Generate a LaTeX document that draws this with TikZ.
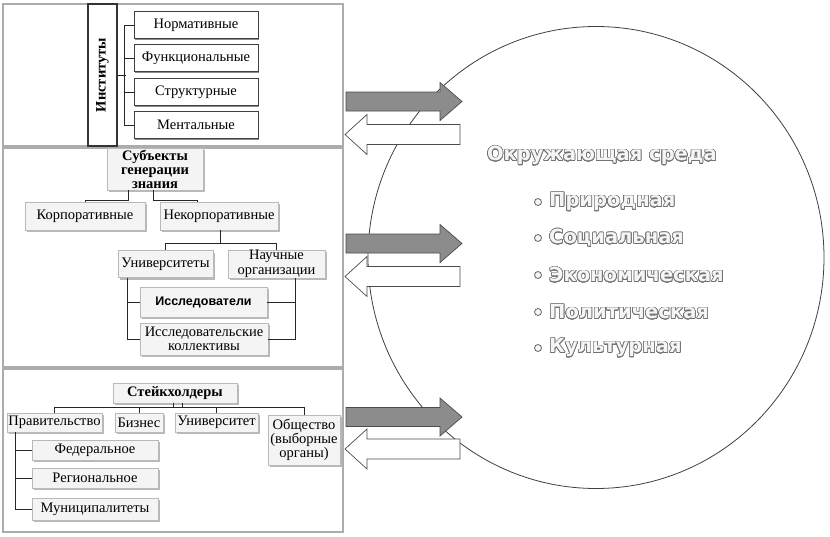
\documentclass[tikz,border=0pt]{standalone}
\usepackage{fontspec}
\setmainfont{Liberation Serif}
\newfontfamily\issfont{Liberation Sans}
\newfontfamily\envfont{DejaVu Sans}
\usepackage{contour}
\contourlength{0.6pt}
\contournumber{24}
\usetikzlibrary{shadows,calc}
\newcommand{\outl}[1]{\contour{black!55}{\textcolor{gray!8}{#1}}}
\newcommand{\rarr}[1]{\draw[garrow] (346,#1-9.5) -- (440,#1-9.5) -- (440,#1-19) -- (462,#1) -- (440,#1+19) -- (440,#1+9.5) -- (346,#1+9.5) -- cycle;}
\newcommand{\larr}[1]{\draw[warrow] (460,#1-10) -- (367,#1-10) -- (367,#1-20) -- (345,#1) -- (367,#1+20) -- (367,#1+10) -- (460,#1+10) -- cycle;}
\begin{document}
\begin{tikzpicture}[x=1pt,y=-1pt,
  panel/.style={draw=gray!65, line width=1.3pt},
  conn/.style={draw=black!85, line width=0.9pt},
  wbox/.style={draw=black!75, fill=white, line width=0.8pt, inner sep=1pt,
    font=\fontsize{14.5}{15}\selectfont,
    drop shadow={shadow xshift=1.3pt, shadow yshift=-1.3pt, fill=black!45, opacity=1}},
  gbox/.style={draw=gray!55, fill=gray!9, line width=0.8pt, inner sep=1pt, align=center,
    font=\fontsize{14.5}{14.5}\selectfont,
    drop shadow={shadow xshift=2pt, shadow yshift=-2pt, fill=gray!55, opacity=1}},
  garrow/.style={draw=black!70, fill=black!45, line width=0.7pt},
  warrow/.style={draw=black!70, fill=white, line width=0.7pt},
  env/.style={draw=black!75, line width=0.8pt},
  envtxt/.style={font=\envfont\bfseries\fontsize{19.5}{21}\selectfont},
  bul/.style={circle, draw=black!60, fill=gray!8, line width=0.8pt, minimum size=7pt, inner sep=0pt}
]
\fill[white] (0,0) rectangle (830,536);
\useasboundingbox (0,0) rectangle (830,536);

% panels
\draw[panel] (3,4) rectangle (343,146);
\draw[panel] (3,148) rectangle (343,367);
\draw[panel] (3,369) rectangle (343,532);

% ---------- panel 1 ----------
\node (inst) [draw=black!80, line width=1.1pt, fill=white, rotate=90, minimum width=142pt,
  minimum height=29pt, inner sep=0pt, font=\bfseries\fontsize{14.5}{14.5}\selectfont] at (102.5,75) {Институты};
\node[wbox, minimum width=124pt, minimum height=27pt] (n1) at (196,25) {Нормативные};
\node[wbox, minimum width=124pt, minimum height=27pt] (n2) at (196,58) {Функциональные};
\node[wbox, minimum width=124pt, minimum height=27pt] (n3) at (196,92) {Структурные};
\node[wbox, minimum width=124pt, minimum height=27pt] (n4) at (196,125) {Ментальные};
\draw[conn] (inst.south) -- ++(8,0);
\draw[conn] (n1.west) -- ++(-9,0) |- (n4.west);
\draw[conn] (n2.west) -- ++(-9,0);
\draw[conn] (n3.west) -- ++(-9,0);

% ---------- panel 2 ----------
\node[gbox, minimum width=96pt, minimum height=42pt, inner sep=0pt,
  font=\bfseries\fontsize{14.5}{14}\selectfont] (subj) at (155,169) {Субъекты\\генерации\\знания};
\node[gbox, minimum width=120pt, minimum height=28pt] (korp) at (85,216) {Корпоративные};
\node[gbox, minimum width=118pt, minimum height=28pt] (nekorp) at (219,216) {Некорпоративные};
\node[gbox, minimum width=95pt, minimum height=27pt] (univ) at (165.5,264) {Университеты};
\node[gbox, minimum width=97pt, minimum height=28pt, inner sep=0pt] (nauch) at (276.5,264) {Научные\\организации};
\node[gbox, minimum width=127pt, minimum height=30pt,
  font=\issfont\bfseries\fontsize{12.5}{13}\selectfont] (issl) at (203.5,302) {Исследователи};
\node[gbox, minimum width=128pt, minimum height=32pt, inner sep=0pt] (koll) at (204,339) {Исследовательские\\коллективы};
\draw[conn] ([xshift=-27pt]subj.south) -- ++(0,10) -| (korp.north);
\draw[conn] ([xshift=-2pt]subj.south) -- ++(0,10) -| ([xshift=-22pt]nekorp.north);
\draw[conn] ([xshift=1pt]nekorp.south) -- ++(0,13) -| (univ.north);
\draw[conn] ([xshift=1pt]nekorp.south) -- ++(0,13) -| (nauch.north);
\draw[conn] ([xshift=-38.5pt]univ.south) |- (issl.west);
\draw[conn] ([xshift=-38.5pt]univ.south) |- (koll.west);
\draw[conn] ([xshift=18.5pt]nauch.south) |- (issl.east);
\draw[conn] ([xshift=18.5pt]nauch.south) |- (koll.east);

% ---------- panel 3 ----------
\node[gbox, minimum width=124pt, minimum height=20pt,
  font=\bfseries\fontsize{14.5}{14}\selectfont] (stake) at (175,393) {Стейкхолдеры};
\node[gbox, minimum width=95pt, minimum height=19pt] (prav) at (54.5,422.5) {Правительство};
\node[gbox, minimum width=48pt, minimum height=19pt] (biz) at (139,422.5) {Бизнес};
\node[gbox, minimum width=83pt, minimum height=19pt] (univ2) at (216.5,422.5) {Университет};
\node[gbox, minimum width=72pt, minimum height=50pt, inner sep=0pt,
  font=\fontsize{14.5}{13}\selectfont] (obsh) at (304,440) {Общество\\(выборные\\органы)};
\node[gbox, minimum width=126pt, minimum height=20pt] (fed) at (95,450) {Федеральное};
\node[gbox, minimum width=126pt, minimum height=20pt] (reg) at (95,478) {Региональное};
\node[gbox, minimum width=126pt, minimum height=22pt] (mun) at (95,509) {Муниципалитеты};
\draw[conn] (prav.north) -- ++(0,-5) -| (obsh.north);
\draw[conn] (biz.north) -- ++(0,-5);
\draw[conn] (univ2.north) -- ++(0,-5);
\draw[conn] ([xshift=-2pt]stake.south) -- ++(0,5);
\draw[conn] ([xshift=7pt]stake.south) -- ++(0,5);
\draw[conn] ([xshift=-39.5pt]prav.south) |- (fed.west);
\draw[conn] ([xshift=-39.5pt]prav.south) |- (reg.west);
\draw[conn] ([xshift=-39.5pt]prav.south) |- (mun.west);

% ---------- environment ----------
\draw[env] (596,257.5) ellipse [x radius=228, y radius=231];
\rarr{101.5}
\larr{134.5}
\rarr{243.5}
\larr{276.5}
\rarr{417}
\larr{449}

\node[envtxt] (envt) at (602,156) {\outl{Окружающая среда}};
\node[bul] (b1) at (538,202) {};
\node[bul] (b2) at (538,238) {};
\node[bul] (b3) at (538,275) {};
\node[bul] (b4) at (538,312) {};
\node[bul] (b5) at (538,348) {};
\node[envtxt, anchor=west, inner sep=0pt] (e1) at (549,202) {\outl{Природная}};
\node[envtxt, anchor=west, inner sep=0pt] (e2) at (549,238) {\outl{Социальная}};
\node[envtxt, anchor=west, inner sep=0pt] (e3) at (549,275) {\outl{Экономическая}};
\node[envtxt, anchor=west, inner sep=0pt] (e4) at (549,312) {\outl{Политическая}};
\node[envtxt, anchor=west, inner sep=0pt] (e5) at (549,348) {\outl{Культурная}};
\end{tikzpicture}
\end{document}
